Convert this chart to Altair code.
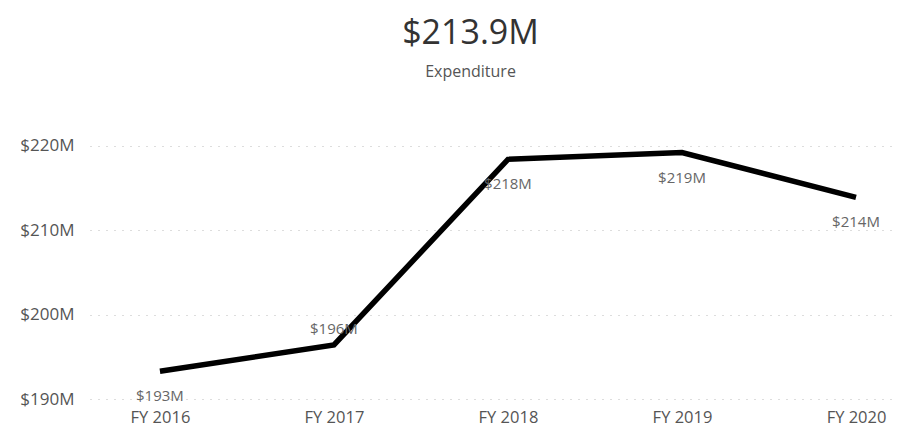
import altair as alt
import pandas as pd

years = ["FY 2016", "FY 2017", "FY 2018", "FY 2019", "FY 2020"]
expenditure = [193.3, 196.4, 218.4, 219.2, 213.9]  # $M
above_label_years = ["FY 2017"]

df = pd.DataFrame({"year": years, "value": expenditure})
df["label"] = ["$" + str(int(round(v))) + "M" for v in expenditure]
df["above"] = df["year"].isin(above_label_years)

FONT = "Open Sans"

x = alt.X("year:N", sort=years, title=None,
          scale=alt.Scale(type="point", padding=0.313, align=0.642),
          axis=alt.Axis(labelAngle=0, ticks=False, domain=False, grid=False,
                        labelPadding=10, labelFontSize=16.5, labelColor="#555",
                        labelFont=FONT))
y = alt.Y("value:Q", title=None,
          scale=alt.Scale(domain=[190, 222], nice=False, zero=False),
          axis=alt.Axis(values=[190, 200, 210, 220], labelExpr='"$" + datum.value + "M"',
                        ticks=False, domain=False, grid=True, gridDash=[1, 7],
                        gridColor="#bbbbbb", gridWidth=1, labelPadding=16,
                        labelFontSize=17, labelColor="#555", labelFont=FONT))

base = alt.Chart(df)
line = base.mark_line(color="black", strokeWidth=5.5, strokeCap="butt",
                      strokeJoin="miter").encode(x=x, y=y)
text_below = base.transform_filter("!datum.above").mark_text(
    dy=25, fontSize=15, color="#666", font=FONT).encode(x=x, y=y, text="label:N")
text_above = base.transform_filter("datum.above").mark_text(
    dy=-16, fontSize=15, color="#666", font=FONT).encode(x=x, y=y, text="label:N")

chart = alt.layer(line, text_below, text_above).properties(
    width=805, height=270,
    title=alt.TitleParams(text="$213.9M", subtitle="Expenditure", fontSize=34,
                          font=FONT, fontWeight="normal", color="#333",
                          subtitleFontSize=16, subtitleFont=FONT, subtitleColor="#555",
                          subtitlePadding=13, offset=49, anchor="middle",
                          frame="group", dx=-22),
    autosize=alt.AutoSizeParams(type="none"),
    padding={"left": 82, "top": 121, "right": 0, "bottom": 30},
).configure_view(stroke=None)

chart.save("out.html", embed_options={"renderer": "svg", "actions": False})
